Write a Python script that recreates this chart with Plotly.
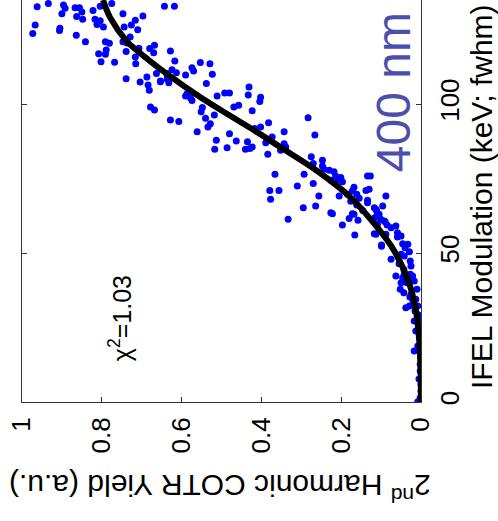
import plotly.graph_objects as go

# measured data: IFEL modulation (keV fwhm) and 2nd-harmonic COTR yield (a.u.)
ifel = [132.6, 133.7, 133.2, 132.1, 132.3, 132.3, 130.9, 130.3, 129.4, 128.4, 131.4, 132.8, 133.7, 128.4, 127.9,
        126.7, 125.8, 126.5, 123.7, 125.4, 124.7, 123.1, 120.9, 120.9, 120.4, 118.1, 116.9, 116.7, 114.2, 114.0,
        130.3, 125.8, 126.5, 128.1, 129.5, 124.9, 122.5, 120.9, 120.5, 117.6, 115.8, 113.5, 118.7, 118.6, 119.7,
        117.2, 117.8, 114.4, 132.8, 132.8, 108.5, 107.4, 109.1, 106.4, 104.6, 110.2, 107.7, 110.2, 111.5, 110.5,
        109.7, 107.1, 99.0, 98.0, 94.6, 94.1, 102.7, 103.5, 108.3, 107.5, 109.4, 112.2, 111.1, 113.9, 113.5,
        110.0, 106.9, 102.1, 101.2, 102.7, 103.7, 103.7, 105.7, 103.0, 102.3, 100.8, 99.0, 99.6, 97.7, 98.8,
        97.4, 96.3, 95.2, 93.4, 92.3, 90.7, 90.0, 87.8, 84.8, 85.3, 87.6, 87.3, 84.8, 85.1, 91.8,
        92.3, 93.7, 88.9, 90.7, 87.0, 83.1, 86.7, 85.6, 76.4, 71.0, 71.0, 68.0, 85.6, 84.5, 95.4,
        89.6, 61.3, 65.2, 72.5, 73.3, 76.4, 82.3, 80.0, 81.1, 79.2, 78.1, 77.8, 77.3, 75.8, 74.7,
        75.3, 73.9, 74.4, 69.1, 65.8, 63.5, 69.1, 69.7, 70.8, 72.1, 69.7, 68.4, 71.0, 75.8, 67.7,
        67.4, 66.1, 61.6, 63.0, 61.0, 59.4, 56.0, 65.2, 64.1, 63.0, 61.8, 61.3, 59.6, 60.7, 69.1,
        52.7, 56.3, 56.3, 63.2, 63.2, 64.3, 66.9, 63.0, 65.8, 60.5, 59.4, 58.5, 59.1, 56.8, 55.7,
        55.4, 56.5, 52.3, 53.1, 52.9, 51.8, 50.4, 49.0, 49.6, 47.9, 47.3, 46.4, 44.5, 45.6, 42.3,
        41.7, 42.9, 40.6, 40.0, 37.8, 37.8, 36.7, 36.1, 42.9, 42.3, 40.0, 31.6, 32.2, 34.5, 29.4,
        27.2, 25.5, 17.1, 14.9, 10.4, 5.9, 1.4, 0.0, 0.1, 21.6, 19.4, 12.7, 23.8, 32.2, 30.5,
        27.9, 23.8, 18.8, 12.1, 7.7, 3.7, 33.9, 35.2, 75.8, 71.4, 64.7]
cotr = [0.962, 0.934, 0.896, 0.892, 0.867, 0.856, 0.850, 0.900, 0.863, 0.848, 0.822, 0.804, 0.775, 0.817, 0.804,
        0.812, 0.796, 0.967, 0.973, 0.905, 0.906, 0.864, 0.841, 0.791, 0.781, 0.789, 0.808, 0.791, 0.802, 0.768,
        0.747, 0.744, 0.726, 0.716, 0.697, 0.710, 0.729, 0.747, 0.737, 0.739, 0.716, 0.715, 0.707, 0.680, 0.668,
        0.670, 0.628, 0.617, 0.643, 0.618, 0.739, 0.704, 0.687, 0.684, 0.681, 0.663, 0.653, 0.636, 0.624, 0.613,
        0.590, 0.632, 0.678, 0.668, 0.628, 0.607, 0.590, 0.586, 0.636, 0.653, 0.636, 0.574, 0.570, 0.553, 0.529,
        0.523, 0.538, 0.578, 0.574, 0.511, 0.492, 0.480, 0.431, 0.433, 0.402, 0.404, 0.469, 0.457, 0.423, 0.548,
        0.551, 0.518, 0.540, 0.528, 0.534, 0.561, 0.480, 0.513, 0.517, 0.486, 0.463, 0.435, 0.440, 0.429, 0.417,
        0.402, 0.382, 0.373, 0.343, 0.389, 0.384, 0.343, 0.339, 0.366, 0.379, 0.356, 0.377, 0.423, 0.352, 0.283,
        0.266, 0.333, 0.295, 0.310, 0.270, 0.293, 0.275, 0.270, 0.247, 0.247, 0.243, 0.230, 0.218, 0.214, 0.208,
        0.201, 0.197, 0.226, 0.256, 0.264, 0.226, 0.205, 0.184, 0.172, 0.168, 0.161, 0.155, 0.138, 0.127, 0.134,
        0.176, 0.161, 0.180, 0.168, 0.158, 0.197, 0.166, 0.117, 0.111, 0.105, 0.116, 0.101, 0.109, 0.092, 0.088,
        0.099, 0.113, 0.088, 0.222, 0.172, 0.146, 0.134, 0.109, 0.096, 0.090, 0.085, 0.075, 0.063, 0.059, 0.050,
        0.059, 0.117, 0.099, 0.046, 0.033, 0.040, 0.029, 0.042, 0.050, 0.075, 0.027, 0.055, 0.043, 0.025, 0.063,
        0.046, 0.027, 0.017, 0.035, 0.010, 0.052, 0.043, 0.025, 0.042, 0.021, 0.050, 0.038, 0.029, 0.013, 0.008,
        0.017, 0.004, 0.017, 0.000, 0.002, 0.000, 0.002, 0.000, 0.008, 0.004, 0.000, 0.002, 0.013, 0.008, 0.015,
        0.005, -0.003, 0.008, -0.002, 0.005, 0.000, 0.020, 0.028, 0.134, 0.130, 0.113]

# fit curve
fit_ifel = [0, 10, 20, 30, 40, 50.7, 58.5, 68.6, 77.5, 85.3, 90.9, 95.4, 102, 110, 118.9, 121, 129, 134.9]
fit_cotr = [0, 0.001, 0.004, 0.012, 0.03, 0.067, 0.109, 0.176, 0.26, 0.35, 0.415, 0.47, 0.55, 0.636, 0.72, 0.737, 0.779, 0.797]

yield_ticks = [0, 0.2, 0.4, 0.6, 0.8, 1]
yield_labels = ["0", "0.2", "0.4", "0.6", "0.8", "1"]
ifel_ticks = [0, 50, 100]
ifel_labels = ["0", "50", "100"]

FONT = "Liberation Sans, Arial, sans-serif"

fig = go.Figure()
fig.add_trace(go.Scatter(x=cotr, y=ifel, mode="markers",
                         marker=dict(color="#0000ff", size=7, line=dict(width=0)),
                         showlegend=False))
fig.add_trace(go.Scatter(x=fit_cotr, y=fit_ifel, mode="lines", line_shape="spline",
                         line=dict(color="black", width=6), showlegend=False))

fig.update_layout(
    width=498, height=521,
    margin=dict(l=22, r=77, t=0, b=119),
    paper_bgcolor="white", plot_bgcolor="white",
    font=dict(family=FONT, color="black"),
    xaxis=dict(range=[1, 0], tickvals=yield_ticks, ticktext=yield_labels,
               tickangle=-90, ticks="inside", ticklen=5, tickcolor="#333",
               showline=True, linecolor="#333", linewidth=1, mirror=False,
               showgrid=False, zeroline=False, tickfont=dict(size=26, family=FONT),
               ticklabelstandoff=4),
    yaxis=dict(range=[0, 134.9], tickvals=ifel_ticks, ticktext=ifel_labels,
               side="right", tickangle=-90, ticks="inside", ticklen=5, tickcolor="#333",
               showline=True, linecolor="#333", linewidth=1, mirror="ticks",
               showgrid=False, zeroline=False, tickfont=dict(size=26, family=FONT),
               ticklabelstandoff=6),
)

fig.add_annotation(xref="paper", yref="paper", x=1.150, y=0.512, showarrow=False,
                   text="IFEL Modulation (keV; fwhm)", textangle=-90,
                   font=dict(size=30, family=FONT, color="black"),
                   xanchor="center", yanchor="middle")
fig.add_annotation(xref="paper", yref="paper", x=0.496, y=-0.214, showarrow=False,
                   text="2<sup>nd</sup> Harmonic COTR Yield (a.u.)", textangle=180,
                   font=dict(size=30, family=FONT, color="black"),
                   xanchor="center", yanchor="middle")
fig.add_annotation(xref="paper", yref="paper", x=0.246, y=0.209, showarrow=False,
                   text="χ<sup>2</sup>=1.03", textangle=-90,
                   font=dict(size=25, family=FONT, color="black"),
                   xanchor="center", yanchor="middle")
fig.add_annotation(xref="paper", yref="paper", x=0.930, y=0.771, showarrow=False,
                   text="400 nm", textangle=-90,
                   font=dict(size=48, family=FONT, color="#4a4fab"),
                   xanchor="center", yanchor="middle")

fig.write_html("out.html")
